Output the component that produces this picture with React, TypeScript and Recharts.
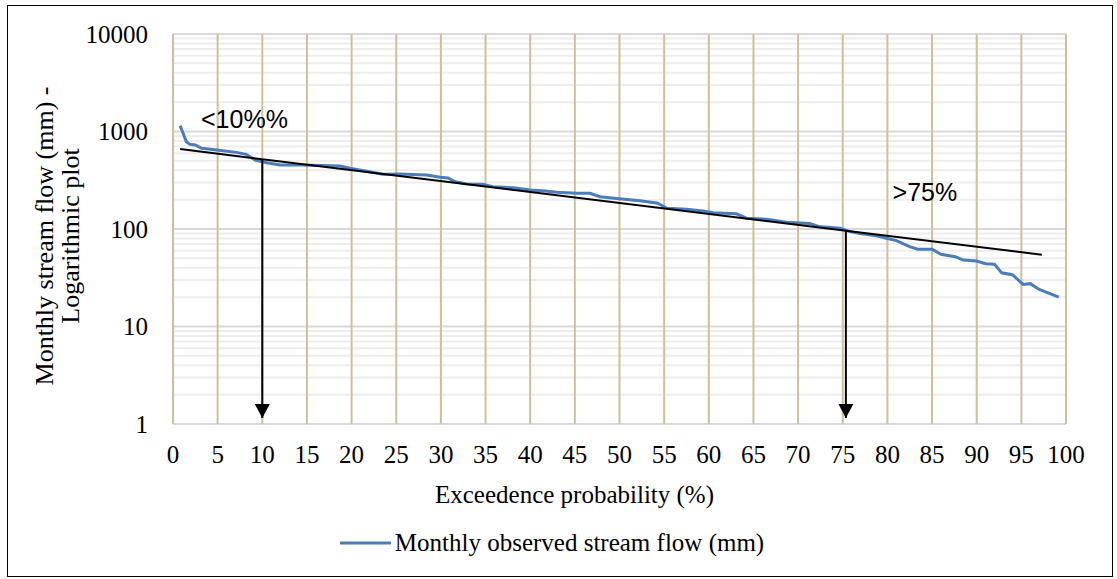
import React from "react";
import {
  LineChart,
  Line,
  XAxis,
  YAxis,
  ReferenceLine,
  ReferenceDot,
  Legend,
} from "recharts";

// exceedence probability (%) and observed monthly flow (mm)
const exceedence = [
  0.8, 1.5, 1.9, 2.5, 3.2, 4.9, 7.1, 8.2, 9.2, 10.5, 12, 14.6, 18.7, 19.8, 22,
  23.5, 25.4, 28.4, 29.9, 30.8, 31.6, 32.9, 34.7, 35.8, 38.1, 40, 41.4, 43,
  45.2, 46.7, 47.8, 49.7, 52.3, 54.3, 55.3, 57.5, 59.4, 60.5, 63.1, 64.2, 66.5,
  68.7, 71.3, 72.3, 74.7, 75.8, 77.3, 78.8, 80, 81, 82.5, 83.4, 85, 86, 87.6,
  88.5, 90, 91, 92, 92.8, 94, 95.2, 96, 97, 99.2,
];
const observedFlow = [
  1148, 786, 738, 728, 672, 646, 611, 583, 510, 479, 453, 453, 443, 420, 387,
  364, 366, 358, 339, 334, 305, 290, 287, 272, 265, 251, 247, 238, 232, 232,
  214, 206, 195, 184, 163, 159, 153, 147, 143, 129, 126, 117, 114, 106, 102, 94,
  89, 85, 80, 76, 66, 62, 62, 55, 52, 48, 47, 44, 43.5, 35.5, 34, 27, 27.5, 24,
  20,
];

// exponential trend line end points
const trendX = [0.8, 97.3];
const trendY = [660, 54.5];

// arrows dropping from the trend line to the axis
const arrowLowX = [10, 10];
const arrowLowY = [520, 1.15];
const arrowHighX = [75.35, 75.35];
const arrowHighY = [98, 1.15];

const xTicks = [0, 5, 10, 15, 20, 25, 30, 35, 40, 45, 50, 55, 60, 65, 70, 75, 80, 85, 90, 95, 100];
const yTicks = [1, 10, 100, 1000, 10000];
const minorY: number[] = [];
[1, 10, 100, 1000].forEach((d) => {
  for (let k = 2; k <= 9; k++) minorY.push(d * k);
});

const SERIF = "'Liberation Serif', 'Times New Roman', serif";
const SANS = "'Liberation Sans', Arial, sans-serif";

const zip = (xs: number[], ys: number[]) => xs.map((x, i) => ({ x, y: ys[i] }));

const flowData = zip(exceedence, observedFlow);
const trendData = zip(trendX, trendY);
const arrowLow = zip(arrowLowX, arrowLowY);
const arrowHigh = zip(arrowHighX, arrowHighY);

const arrowHead = (props: any) => {
  const { cx, cy, index } = props;
  if (index !== 1) return <g key={`a-${index}`} />;
  return (
    <path
      key={`a-${index}`}
      d={`M${cx - 7.5},${cy - 14} L${cx + 7.5},${cy - 14} L${cx},${cy} Z`}
      fill="#000"
    />
  );
};

const YTitle = (props: any) => {
  const { viewBox } = props;
  const cy = viewBox.y + viewBox.height / 2 + 7;
  return (
    <g fontFamily={SERIF} fontSize={26} fill="#000">
      <text x={53} y={cy} textAnchor="middle" transform={`rotate(-90 53 ${cy})`}>
        Monthly stream flow (mm) -
      </text>
      <text x={79} y={cy} textAnchor="middle" transform={`rotate(-90 79 ${cy})`}>
        Logarithmic plot
      </text>
    </g>
  );
};

const XTitle = (props: any) => {
  const { viewBox } = props;
  const cx = viewBox.x + viewBox.width / 2 - 45;
  return (
    <text x={cx} y={503} textAnchor="middle" fontFamily={SERIF} fontSize={25} fill="#000">
      Exceedence probability (%)
    </text>
  );
};

const LegendContent = (props: any) => {
  const items = (props.payload || []).filter((p: any) => p.type !== "none");
  return (
    <div style={{ display: "flex", justifyContent: "center", alignItems: "center", height: 36 }}>
      {items.map((p: any) => (
        <div key={p.value} style={{ display: "flex", alignItems: "center" }}>
          <svg width={52} height={6}>
            <line x1={0} y1={3} x2={51} y2={3} stroke={p.color} strokeWidth={3} />
          </svg>
          <span style={{ fontFamily: SERIF, fontSize: 25, color: "#000", marginLeft: 3 }}>{p.value}</span>
        </div>
      ))}
    </div>
  );
};

export default function App() {
  return (
    <div style={{ position: "absolute", left: 0, top: 0, width: 1117, height: 579, background: "#fff" }}>
      <div
        style={{
          position: "absolute",
          left: 7,
          top: 5,
          width: 1106,
          height: 572,
          border: "1.5px solid #000",
          boxSizing: "border-box",
        }}
      />
      <div style={{ position: "absolute", left: 0, top: 0 }}>
        <LineChart width={1117} height={579} margin={{ top: 34, right: 51, bottom: 18, left: 0 }}>
          {minorY.map((v) => (
            <ReferenceLine key={`m${v}`} y={v} stroke="#EDEDED" strokeWidth={2} />
          ))}
          {yTicks.map((v) => (
            <ReferenceLine key={`M${v}`} y={v} stroke="#D9D9D9" strokeWidth={2} />
          ))}
          {xTicks.map((v) => (
            <ReferenceLine key={`v${v}`} x={v} stroke="#CBC29A" strokeWidth={2} />
          ))}
          <XAxis
            type="number"
            dataKey="x"
            domain={[0, 100]}
            ticks={xTicks}
            interval={0}
            axisLine={false}
            tickLine={false}
            tickSize={0}
            tickMargin={21}
            height={101}
            tick={{ fill: "#000", fontSize: 25, fontFamily: SERIF }}
            label={<XTitle />}
            allowDataOverflow
          />
          <YAxis
            type="number"
            scale="log"
            domain={[1, 10000]}
            ticks={yTicks}
            interval={0}
            axisLine={false}
            tickLine={false}
            tickSize={0}
            tickMargin={25}
            width={173}
            tick={{ fill: "#000", fontSize: 25, fontFamily: SERIF }}
            label={<YTitle />}
            allowDataOverflow
          />
          <Line
            data={flowData}
            dataKey="y"
            name="Monthly observed stream flow (mm)"
            stroke="#4A7EBB"
            strokeWidth={3}
            dot={false}
            isAnimationActive={false}
          />
          <Line
            data={trendData}
            dataKey="y"
            name="trend"
            legendType="none"
            stroke="#000"
            strokeWidth={2}
            dot={false}
            isAnimationActive={false}
          />
          <Line
            data={arrowLow}
            dataKey="y"
            name="arrow10"
            legendType="none"
            stroke="#000"
            strokeWidth={2}
            dot={arrowHead}
            isAnimationActive={false}
          />
          <Line
            data={arrowHigh}
            dataKey="y"
            name="arrow75"
            legendType="none"
            stroke="#000"
            strokeWidth={2}
            dot={arrowHead}
            isAnimationActive={false}
          />
          <ReferenceDot
            x={8}
            y={1343}
            r={0}
            label={{ value: "<10%%", position: "center", fontSize: 25, fontFamily: SANS, fill: "#000" }}
          />
          <ReferenceDot
            x={84.2}
            y={239}
            r={0}
            label={{ value: ">75%", position: "center", fontSize: 25, fontFamily: SANS, fill: "#000" }}
          />
          <Legend
            verticalAlign="bottom"
            content={<LegendContent />}
            wrapperStyle={{ left: 0, width: 1104, height: 36 }}
          />
        </LineChart>
      </div>
    </div>
  );
}
